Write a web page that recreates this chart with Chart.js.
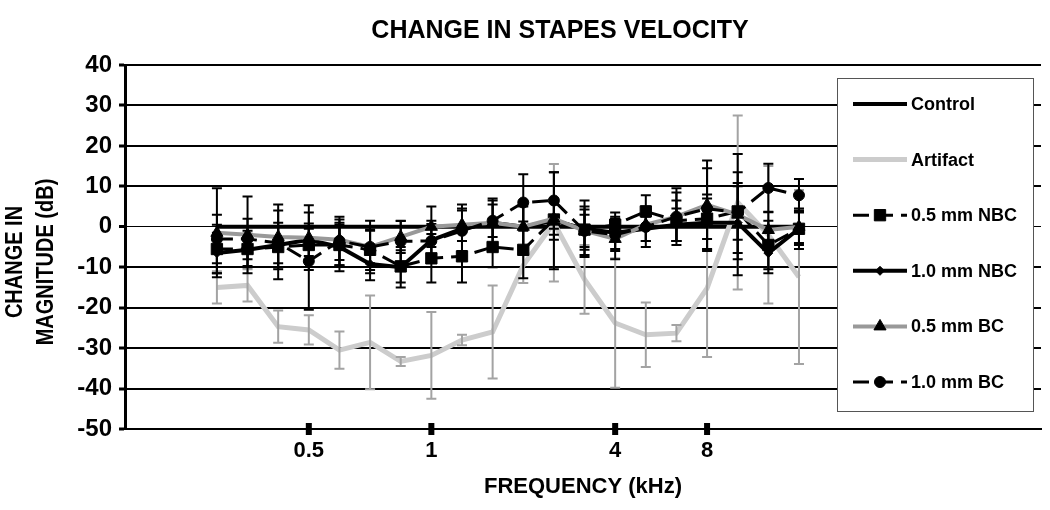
<!DOCTYPE html>
<html lang="en">
<head>
<meta charset="UTF-8">
<title>Change in Stapes Velocity</title>
<script src="https://cdn.jsdelivr.net/npm/chart.js"></script>
<style>
  body { margin: 0; background: #fff; }
  canvas { display: block; }
</style>
</head>
<body>
<canvas id="chart" width="1050" height="510"></canvas>
<script>
  // frequency categories (kHz), only some are labelled on the axis
  const freqs = ['0.25', '0.3', '0.4', '0.5', '0.6', '0.7', '0.85', '1', '1.25', '1.6',
                 '2', '2.5', '3.15', '4', '5', '6.3', '8', '10', '12.5', '16'];
  const tickFreqs = ['0.5', '1', '4', '8'];

  // change in magnitude (dB) and +/- error per series
  const control     = [0, 0, 0, 0, 0, 0, 0, 0, 0, 0, 0, 0, 0, 0, 0, 0, 0, 0, 0, 0];
  const artifact    = [-15, -14.5, -24.7, -25.5, -30.5, -28.6, -33.3, -31.8, -28, -26, -9.5, 1, -13, -23.8, -26.7, -26.3, -15.2, 6, -2, -12.4];
  const artifactErr = [4, 4, 4, 3.6, 4.6, 11.6, 1.1, 10.7, 1.3, 11.5, 4.4, 14.5, 8.5, 16, 8, 2, 17, 21.5, 17, 21.5];
  const nbc05       = [-5.5, -5.5, -5, -4.5, -4.5, -5.7, -9.8, -7.8, -7.3, -5, -5.7, 1.8, -0.7, 0.5, 3.8, 1.5, 2, 3.8, -4.5, -0.5];
  const nbc05Err    = [6, 4.5, 5, 4, 5, 5, 4, 6, 6.5, 5, 7, 5, 5, 3, 4, 5, 5, 7, 6, 4];
  const nbc10       = [-6.5, -5.7, -4.5, -3.2, -5, -9.2, -10, -3.3, -0.5, 1, 0, 1.5, -0.5, -1.5, -0.5, 0.5, 1, 1, -6.5, -0.5];
  const nbc10Err    = [5, 4, 8.5, 4, 6, 4, 5, 4, 6, 6, 6, 12, 7, 4, 3, 4, 7, 9, 5, 5];
  const bc05        = [-1.5, -2, -2.5, -2.7, -3.2, -5, -2.5, 0, 0.5, 1, 0, 2, -1, -3, 0.5, 2.5, 5.4, 3, -0.8, 0];
  const bc05Err     = [11, 9.5, 8, 8, 5, 6.5, 4, 5, 4, 5.5, 5, 4, 4, 5, 4, 6, 11, 15, 4.5, 4];
  const bc10        = [-3, -3, -4, -8.5, -3.5, -5, -3.6, -3.5, -1, 1.5, 6, 6.5, -1, -2, 0, 2.5, 4.5, 3.5, 9.6, 7.8];
  const bc10Err     = [6, 5, 5, 12, 6, 4, 5, 5, 5, 4, 7, 7, 6, 4, 5, 7, 10, 10, 6, 4];

  const FONT = "'Liberation Sans', Arial, sans-serif";
  const pts = arr => arr.map((v, i) => ({ x: i, y: v }));

  const series = (label, values, opts) => Object.assign({
    label, data: pts(values), tension: 0, fill: false,
    pointRadius: 0, pointBorderWidth: 1,
    pointBackgroundColor: '#000', pointBorderColor: '#000'
  }, opts);

  const datasets = [
    series('Control', control, { borderColor: '#000', borderWidth: 4, order: 6 }),
    series('Artifact', artifact, { borderColor: '#cccccc', borderWidth: 5, order: 5,
      errors: artifactErr, errorColor: '#a3a3a3' }),
    series('0.5 mm NBC', nbc05, { borderColor: '#000', borderWidth: 3, borderDash: [16, 8], order: 4,
      pointStyle: 'rect', pointRadius: 8, errors: nbc05Err, errorColor: '#000' }),
    series('1.0 mm NBC', nbc10, { borderColor: '#000', borderWidth: 4, order: 3,
      pointStyle: 'rectRot', pointRadius: 4.5, errors: nbc10Err, errorColor: '#000' }),
    series('0.5 mm BC', bc05, { borderColor: '#999999', borderWidth: 4, order: 2,
      pointStyle: 'triangle', pointRadius: 7, errors: bc05Err, errorColor: '#000' }),
    series('1.0 mm BC', bc10, { borderColor: '#000', borderWidth: 3, borderDash: [16, 8], order: 1,
      pointStyle: 'circle', pointRadius: 5.5, errors: bc10Err, errorColor: '#000' })
  ];

  // vertical error bars with caps, drawn right after each series
  const errorBars = {
    id: 'errorBars',
    afterDatasetDraw(chart, args) {
      const ds = chart.data.datasets[args.index];
      if (!ds.errors) return;
      const { ctx, scales: { x, y } } = chart;
      ctx.save();
      ctx.strokeStyle = ds.errorColor;
      ctx.lineWidth = 2;
      ds.data.forEach((p, i) => {
        const e = ds.errors[i];
        const px = x.getPixelForValue(p.x);
        const top = y.getPixelForValue(p.y + e);
        const bot = y.getPixelForValue(p.y - e);
        ctx.beginPath();
        ctx.moveTo(px, top); ctx.lineTo(px, bot);
        ctx.moveTo(px - 5, top); ctx.lineTo(px + 5, top);
        ctx.moveTo(px - 5, bot); ctx.lineTo(px + 5, bot);
        ctx.stroke();
      });
      ctx.restore();
    }
  };

  // x tick blocks, two-line y title and the boxed legend
  const decor = {
    id: 'decor',
    afterDraw(chart) {
      const { ctx, chartArea, scales: { x } } = chart;
      ctx.save();
      ctx.fillStyle = '#000';
      x.ticks.forEach(t => {
        const px = x.getPixelForValue(t.value);
        ctx.fillRect(px - 3, chartArea.bottom - 6, 6, 12);
      });

      ctx.font = 'bold 20px ' + FONT;
      ctx.textAlign = 'center';
      ctx.textBaseline = 'middle';
      [['CHANGE IN', 15], ['MAGNITUDE (dB)', 46]].forEach(([txt, cx]) => {
        ctx.save();
        ctx.translate(cx, 262);
        ctx.rotate(-Math.PI / 2);
        ctx.scale(1, 1.2);
        ctx.fillText(txt, 0, 0);
        ctx.restore();
      });

      // legend box
      const bx = 837.5, by = 78.5, bw = 196, bh = 333;
      ctx.fillStyle = '#fff';
      ctx.fillRect(bx, by, bw, bh);
      ctx.strokeStyle = '#555';
      ctx.lineWidth = 1;
      ctx.strokeRect(bx, by, bw, bh);
      ctx.font = 'bold 18px ' + FONT;
      ctx.textAlign = 'left';
      chart.data.datasets.forEach((ds, k) => {
        const ly = 104 + k * 55.6;
        ctx.save();
        ctx.strokeStyle = ds.borderColor;
        ctx.lineWidth = ds.borderWidth;
        ctx.setLineDash(ds.borderDash || []);
        ctx.beginPath();
        ctx.moveTo(853, ly); ctx.lineTo(907, ly);
        ctx.stroke();
        ctx.restore();
        if (ds.pointRadius > 0) {
          ctx.fillStyle = '#000';
          ctx.strokeStyle = '#000';
          Chart.helpers.drawPoint(ctx, { pointStyle: ds.pointStyle, radius: ds.pointRadius, rotation: 0, borderWidth: 1 }, 880, ly);
        }
        ctx.fillStyle = '#000';
        ctx.fillText(ds.label, 911, ly + 1);
      });
      ctx.restore();
    }
  };

  new Chart(document.getElementById('chart'), {
    type: 'line',
    data: { datasets },
    options: {
      responsive: false,
      animation: false,
      devicePixelRatio: 1,
      layout: { padding: { left: 76, right: 6, top: 0, bottom: 0 } },
      plugins: {
        legend: { display: false },
        tooltip: { enabled: false },
        title: {
          display: true,
          text: 'CHANGE IN STAPES VELOCITY',
          color: '#000',
          font: { family: FONT, size: 25, weight: 'bold' },
          padding: { top: 16, bottom: 19 }
        }
      },
      scales: {
        x: {
          type: 'linear',
          min: -3,
          max: 26.9,
          afterFit: s => { s.height = 81; },
          afterBuildTicks: s => { s.ticks = tickFreqs.map(f => ({ value: freqs.indexOf(f) })); },
          grid: { display: false, drawTicks: false },
          border: { display: true, color: '#000', width: 2 },
          ticks: {
            autoSkip: false, maxRotation: 0, padding: 9, color: '#000',
            font: { family: FONT, size: 22, weight: 'bold' },
            callback: v => freqs[v]
          },
          title: {
            display: true, text: 'FREQUENCY (kHz)', color: '#000',
            font: { family: FONT, size: 22, weight: 'bold' },
            padding: { top: 0, bottom: 10 }
          }
        },
        y: {
          min: -50,
          max: 40,
          afterFit: s => { s.width = 49; },
          grid: {
            color: '#000',
            lineWidth: c => (c.tick && c.tick.value === 0 ? 1 : 2),
            tickLength: 6, tickWidth: 3, tickColor: '#000'
          },
          border: { display: true, color: '#000', width: 3 },
          ticks: {
            stepSize: 10, padding: 7, color: '#000',
            font: { family: FONT, size: 24, weight: 'bold' }
          }
        }
      }
    },
    plugins: [errorBars, decor]
  });
</script>
</body>
</html>
